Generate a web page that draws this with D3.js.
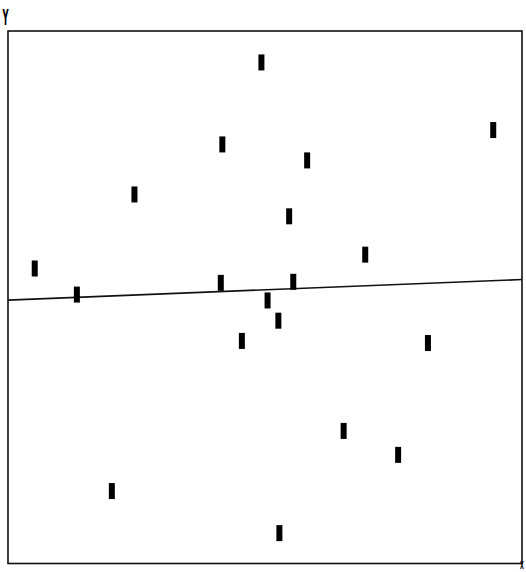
<!DOCTYPE html>
<html>
<head>
<meta charset="utf-8">
<script src="https://cdn.jsdelivr.net/npm/d3@7"></script>
<style>
  html, body { margin: 0; padding: 0; background: #fff; }
  svg { display: block; }
</style>
</head>
<body>
<svg id="chart" width="526" height="572"></svg>
<script>
// Observations (arbitrary units on 0–100 axes)
const xValues = [49.3, 94.4, 41.7, 58.2, 24.6, 54.7, 69.5, 5.2, 13.4, 41.4,
                 55.5, 50.5, 52.6, 45.5, 81.7, 65.3, 75.9, 20.2, 52.8];
const yValues = [94.1, 81.4, 78.7, 75.7, 69.3, 65.2, 58.0, 55.4, 50.5, 52.7,
                 52.9, 49.4, 45.6, 41.8, 41.4, 24.9, 20.4, 13.6, 5.7];
const xDomain = [0, 100];
const yDomain = [0, 100];
const axisLabels = { x: "X", y: "Y" };

const svg = d3.select("#chart");
const plotLeft = 8, plotRight = 522, plotTop = 31, plotBottom = 563.5;

const x = d3.scaleLinear().domain(xDomain).range([plotLeft, plotRight]);
const y = d3.scaleLinear().domain(yDomain).range([plotBottom, plotTop]);

const points = xValues.map((v, i) => ({ x: v, y: yValues[i] }));

// Plot frame
svg.append("rect")
  .attr("x", x(xDomain[0])).attr("y", y(yDomain[1]))
  .attr("width", x(xDomain[1]) - x(xDomain[0]))
  .attr("height", y(yDomain[0]) - y(yDomain[1]))
  .attr("fill", "none").attr("stroke", "#111").attr("stroke-width", 1.6);

// Least-squares fit of y on x
const mx = d3.mean(xValues), my = d3.mean(yValues);
const sxy = d3.sum(points, p => (p.x - mx) * (p.y - my));
const sxx = d3.sum(points, p => (p.x - mx) ** 2);
const slope = sxy / sxx;
const intercept = my - slope * mx;

svg.append("line")
  .attr("x1", x(xDomain[0])).attr("y1", y(intercept + slope * xDomain[0]))
  .attr("x2", x(xDomain[1])).attr("y2", y(intercept + slope * xDomain[1]))
  .attr("stroke", "#111").attr("stroke-width", 1.7);

// Bar-shaped point markers
const mw = 6, mh = 16;
svg.append("g").selectAll("rect")
  .data(points)
  .join("rect")
  .attr("x", d => x(d.x) - mw / 2)
  .attr("y", d => y(d.y) - mh / 2)
  .attr("width", mw).attr("height", mh)
  .attr("fill", "#000");

// Axis letters
svg.append("text")
  .attr("transform", "translate(5.5,25) scale(0.38,1)")
  .attr("text-anchor", "middle")
  .attr("font-family", "DejaVu Sans")
  .attr("font-weight", "bold")
  .attr("font-size", 22)
  .attr("fill", "#000")
  .text(axisLabels.y);

svg.append("text")
  .attr("transform", "translate(522,568.5) scale(0.45,1)")
  .attr("text-anchor", "middle")
  .attr("font-family", "DejaVu Sans")
  .attr("font-weight", "bold")
  .attr("font-size", 11)
  .attr("fill", "#000")
  .text(axisLabels.x);
</script>
</body>
</html>
